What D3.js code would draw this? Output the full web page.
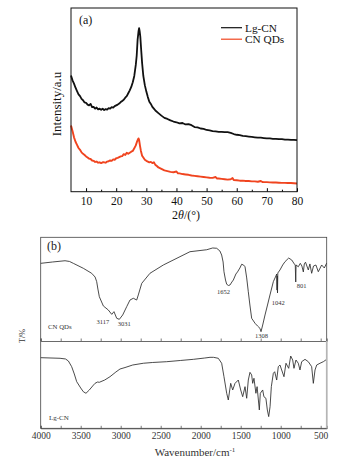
<!DOCTYPE html>
<html>
<head>
<meta charset="utf-8">
<script src="https://cdn.jsdelivr.net/npm/d3@7"></script>
<style>
body { margin: 0; background: #fff; }
svg { display: block; }
text { font-family: "Liberation Serif", "Times New Roman", serif; }
</style>
</head>
<body>
<div id="chart"></div>
<script>
// (a) XRD, 2theta in degrees vs intensity (a.u.)
const xrdLgCN = [[5,632],[5.5,606],[6,588],[6.5,566],[7,548],[7.5,530],[8,520],[8.5,505],[9,498],[9.5,486],[10,484],[10.5,474],[11,470],[11.5,478],[12,460],[12.5,462],[13,452],[13.5,458],[14,448],[14.5,452],[15,446],[15.5,452],[16,444],[16.5,450],[17,447],[17.5,455],[18,452],[18.5,460],[19,458],[19.5,466],[20,470],[20.5,474],[21,480],[21.5,488],[22,494],[22.5,500],[23,512],[23.5,520],[24,536],[24.5,552],[25,570],[25.5,596],[26,630],[26.5,690],[26.8,740],[27.1,826],[27.4,872],[27.6,890],[27.8,872],[28,844],[28.3,770],[28.6,700],[29,630],[29.5,580],[30,545],[30.5,515],[31,490],[31.5,478],[32,462],[32.5,452],[33,442],[34,428],[35,414],[36,402],[37,396],[38,388],[39,382],[40,378],[41,372],[42,374],[43,366],[44,368],[45,362],[46,352],[47,350],[48,344],[49,342],[50,336],[51,334],[52,330],[53,328],[54,326],[55,326],[56,324],[57,324],[58,320],[59,314],[60,310],[61,308],[62,304],[63,302],[64,300],[65,298],[66,296],[67,294],[68,294],[69,292],[70,290],[71,290],[72,288],[73,288],[74,286],[75,286],[76,284],[77,284],[78,282],[79,282],[80,281]];
const xrdQDs = [[5,360],[5.5,330],[6,296],[6.5,272],[7,255],[7.5,238],[8,228],[8.5,214],[9,206],[9.5,200],[10,192],[10.5,186],[11,180],[11.5,178],[12,170],[12.5,168],[13,162],[13.5,164],[14,158],[14.5,160],[15,156],[15.5,160],[16,160],[16.5,158],[17,164],[17.5,166],[18,170],[18.5,168],[19,176],[19.5,174],[20,182],[20.5,184],[21,188],[21.5,192],[22,194],[22.5,204],[23,200],[23.5,212],[24,206],[24.5,212],[25,218],[25.5,222],[26,236],[26.5,252],[26.9,272],[27.2,284],[27.4,290],[27.6,282],[27.9,250],[28.2,222],[28.6,196],[29,186],[29.5,174],[30,168],[30.5,164],[31,160],[31.5,162],[32,156],[32.5,160],[33,146],[33.5,140],[34,132],[35,124],[36,116],[37,112],[38,108],[39,106],[40,110],[40.5,100],[41,100],[42,96],[43,94],[44,92],[45,88],[46,86],[47,84],[48,82],[49,80],[50,78],[51,76],[52,75],[53,80],[53.4,72],[54,72],[55,70],[56,68],[57,66],[58,68],[58.6,74],[59,64],[60,62],[61,60],[62,60],[63,58],[64,58],[65,56],[66,56],[67,54],[68,58],[68.5,53],[69,52],[70,52],[71,51],[72,50],[73,50],[74,49],[75,48],[76,48],[77,47],[78,47],[79,46],[80,45]];
const xrdNames = ["Lg-CN", "CN QDs"];
const xrdTicks = [10, 20, 30, 40, 50, 60, 70, 80];
const xrdMinor = [15, 25, 35, 45, 55, 65, 75];

// (b) FTIR, wavenumber (cm-1) vs transmittance (%)
const ftirQDs = [[4000,74.9],[3850,76.2],[3696,77.4],[3640,76.7],[3592,74.9],[3467,70.1],[3363,65.3],[3320,61.7],[3300,57.2],[3285,50.1],[3267,42.7],[3217,33.8],[3155,29.9],[3112,25.7],[3084,28.3],[3050,21.9],[3017,20.9],[2975,25.1],[2925,33.1],[2884,39.5],[2842,41.2],[2800,39.5],[2780,44.4],[2737,55.6],[2634,65.3],[2467,73.3],[2259,81.3],[2134,86.1],[1925,88],[1850,89.7],[1800,89.4],[1760,86.8],[1738,82.9],[1720,76.2],[1709,66.8],[1690,58.8],[1675,54.7],[1652,53.5],[1634,54],[1610,56.9],[1592,58.8],[1560,64.6],[1540,66.6],[1510,70.4],[1488,74],[1465,73.3],[1446,71.6],[1425,60.8],[1405,47.5],[1385,34.7],[1363,21.9],[1340,19.3],[1321,17.1],[1290,14.5],[1259,12.2],[1246,9],[1225,15.4],[1196,25.1],[1165,34.7],[1134,44.4],[1092,57.2],[1060,62.7],[1050,64.6],[1046,49.1],[1043,62.7],[1040,46.3],[1036,65.6],[1009,68.5],[975,73.3],[946,76.5],[900,80],[862,78.1],[830,74.3],[818,73.3],[812,56.9],[808,73.3],[780,71.6],[755,74.9],[735,72.3],[717,66.6],[705,74.3],[690,76],[655,68.5],[635,74.3],[613,65.3],[590,72.3],[560,73.3],[530,66.8],[488,73.3],[455,70.4],[425,75.2]];
const ftirLgCN = [[4000,80.9],[3758,80.2],[3690,79.4],[3654,77.1],[3613,70.6],[3580,62.2],[3550,53.4],[3500,46.2],[3467,41.9],[3434,40.1],[3392,43.9],[3350,48.5],[3321,51.5],[3290,53],[3267,52.7],[3200,55.3],[3134,59.1],[3060,64.5],[3009,67.9],[2946,69.6],[2850,72.5],[2717,74.5],[2600,75.4],[2425,76.3],[2250,77.7],[2092,79],[1950,80.5],[1884,81.3],[1840,81.3],[1780,80.2],[1738,74.5],[1709,59.1],[1675,40.1],[1655,32.4],[1625,51.5],[1600,43.9],[1571,51.5],[1530,55.3],[1500,43.9],[1475,36.2],[1446,47.7],[1425,34.4],[1405,55.3],[1384,64.1],[1363,61.1],[1350,51.5],[1334,57.3],[1310,40.1],[1295,47.7],[1267,21],[1255,40.1],[1225,43.9],[1210,36.2],[1185,34.4],[1167,21],[1150,13.4],[1133,24.7],[1117,47.7],[1092,63],[1075,64.8],[1050,55.3],[1030,70.6],[1009,72.5],[988,66.8],[959,59.1],[934,74.5],[900,68.7],[875,82.8],[850,78.2],[834,68.7],[809,78.2],[780,74.5],[759,66.8],[738,76.3],[696,79],[655,76.3],[613,70.6],[592,51.5],[571,66.8],[550,72.5],[509,74.5],[467,76.3],[425,79]];
const ftirPeaks = ["3117", "3031", "1652", "1308", "1042", "801"];
const ftirPeakAt = [3112, 3017, 1652, 1246, 1040, 812];
const ftirTicks = [4000, 3500, 3000, 2500, 2000, 1500, 1000, 500];
const ftirMinor = [3750, 3250, 2750, 2250, 1750, 1250, 750];

const width = 349, height = 462;
const svg = d3.select("#chart").append("svg")
  .attr("width", width)
  .attr("height", height);
svg.append("rect").attr("width", width).attr("height", height).attr("fill", "#fff");

// ---------- panel (a) ----------
const a = {left: 71, right: 297, top: 8, bottom: 191.7};
const xA = d3.scaleLinear().domain([5, 80]).range([a.left, a.right]);
const yA = d3.scaleLinear().domain([0, 1000]).range([a.bottom, a.top]);

const lineA = d3.line().x(d => xA(d[0])).y(d => yA(d[1]));

svg.append("path").datum(xrdQDs)
  .attr("d", lineA).attr("fill", "none")
  .attr("stroke", "#f0441f").attr("stroke-width", 1.9).attr("stroke-linejoin", "round");
svg.append("path").datum(xrdLgCN)
  .attr("d", lineA).attr("fill", "none")
  .attr("stroke", "#111").attr("stroke-width", 1.8).attr("stroke-linejoin", "round");

const axA = svg.append("g").attr("transform", "translate(0," + a.bottom + ")")
  .call(d3.axisBottom(xA).tickValues(xrdTicks).tickSize(-3.5).tickPadding(5.5));
axA.select(".domain").remove();
axA.selectAll("text").attr("font-size", 11.5).attr("font-family", "Liberation Serif").attr("fill", "#111");
svg.append("g").attr("transform", "translate(0," + a.bottom + ")")
  .call(d3.axisBottom(xA).tickValues(xrdMinor).tickSize(-2).tickFormat(""))
  .select(".domain").remove();

svg.append("rect")
  .attr("x", a.left).attr("y", a.top)
  .attr("width", a.right - a.left).attr("height", a.bottom - a.top)
  .attr("fill", "none").attr("stroke", "#111").attr("stroke-width", 1);

svg.append("text").attr("x", 79).attr("y", 24)
  .attr("font-size", 12).attr("fill", "#111").text("(a)");

svg.append("text")
  .attr("transform", "translate(61,104) rotate(-90)")
  .attr("text-anchor", "middle").attr("font-size", 13).attr("fill", "#111")
  .text("Intensity/a.u");

const xlab = svg.append("text").attr("x", 186).attr("y", 218.5)
  .attr("text-anchor", "middle").attr("font-size", 12).attr("fill", "#111");
xlab.append("tspan").text("2");
xlab.append("tspan").attr("font-style", "italic").text("θ");
xlab.append("tspan").text("/(°)");

const legColors = ["#111", "#f0441f"];
xrdNames.forEach((name, i) => {
  const ly = 27.7 + i * 11.5;
  svg.append("line").attr("x1", 221).attr("x2", 242).attr("y1", ly).attr("y2", ly)
    .attr("stroke", legColors[i]).attr("stroke-width", 1.2);
  svg.append("text").attr("x", 245).attr("y", ly + 3.8)
    .attr("font-size", 11.3).attr("fill", "#111").text(name);
});

// ---------- panel (b) ----------
const b = {left: 40.7, right: 326.7, top: 237.3, mid: 341, bottom: 428.3};
const xB = d3.scaleLinear().domain([4000, 425]).range([b.left, b.right]);
const yTop = d3.scaleLinear().domain([0, 100]).range([b.mid, b.top]);
const yBot = d3.scaleLinear().domain([0, 100]).range([b.bottom, b.mid]);

svg.append("path").datum(ftirQDs)
  .attr("d", d3.line().x(d => xB(d[0])).y(d => yTop(d[1])))
  .attr("fill", "none").attr("stroke", "#2a2a2a").attr("stroke-width", 0.85);
svg.append("path").datum(ftirLgCN)
  .attr("d", d3.line().x(d => xB(d[0])).y(d => yBot(d[1])))
  .attr("fill", "none").attr("stroke", "#2a2a2a").attr("stroke-width", 0.85);

[b.mid, b.bottom].forEach((yy, i) => {
  const g = svg.append("g").attr("transform", "translate(0," + yy + ")")
    .call(d3.axisBottom(xB).tickValues(ftirTicks.concat(ftirMinor)).tickSize(-2.5)
      .tickPadding(3.8).tickFormat(d => (i === 1 && ftirTicks.includes(d)) ? d : ""));
  g.select(".domain").attr("stroke", "#444").attr("stroke-width", 0.8);
  g.selectAll("line").attr("stroke", "#444").attr("stroke-width", 0.7);
  g.selectAll("text").attr("font-size", 9.5).attr("font-family", "Liberation Serif").attr("fill", "#333");
});

svg.append("rect")
  .attr("x", b.left).attr("y", b.top)
  .attr("width", b.right - b.left).attr("height", b.bottom - b.top)
  .attr("fill", "none").attr("stroke", "#444").attr("stroke-width", 0.8);
svg.append("line").attr("x1", b.right).attr("x2", b.right).attr("y1", b.mid).attr("y2", b.bottom)
  .attr("stroke", "#b5b5b5").attr("stroke-width", 1.6);

svg.append("text").attr("x", 47).attr("y", 249.5)
  .attr("font-size", 12).attr("fill", "#222").text("(b)");

// peak labels (offsets in px from the dip)
const peakPos = {
  "3117": {dx: -2.5, dy: 9.5, anchor: "end"},
  "3031": {dx: -1.5, dy: 7, anchor: "start"},
  "1652": {dx: 1.5, dy: 8.5, anchor: "end"},
  "1308": {dx: 0.5, dy: 6, anchor: "middle"},
  "1042": {dx: 0.8, dy: 12.5, anchor: "middle"},
  "801": {dx: 1, dy: 6.5, anchor: "start"}
};
ftirPeaks.forEach((lab, i) => {
  const wn = ftirPeakAt[i];
  const row = ftirQDs.find(d => d[0] === wn);
  const p = peakPos[lab];
  svg.append("text")
    .attr("x", xB(wn) + p.dx).attr("y", yTop(row[1]) + p.dy)
    .attr("text-anchor", p.anchor).attr("font-size", 6.5).attr("fill", "#333")
    .text(lab);
});

svg.append("text").attr("x", 48).attr("y", 329)
  .attr("font-size", 6.8).attr("fill", "#333").text("CN QDs");
svg.append("text").attr("x", 49).attr("y", 420)
  .attr("font-size", 7).attr("fill", "#333").text("Lg-CN");

svg.append("text")
  .attr("transform", "translate(24.5,336) rotate(-90)")
  .attr("text-anchor", "middle").attr("font-size", 8).attr("fill", "#333")
  .text("T/%");

const wlab = svg.append("text").attr("x", 195).attr("y", 456)
  .attr("text-anchor", "middle").attr("font-size", 11).attr("fill", "#333");
wlab.append("tspan").text("Wavenumber/cm");
wlab.append("tspan").attr("dy", -4).attr("font-size", 7).text("-1");
</script>
</body>
</html>
